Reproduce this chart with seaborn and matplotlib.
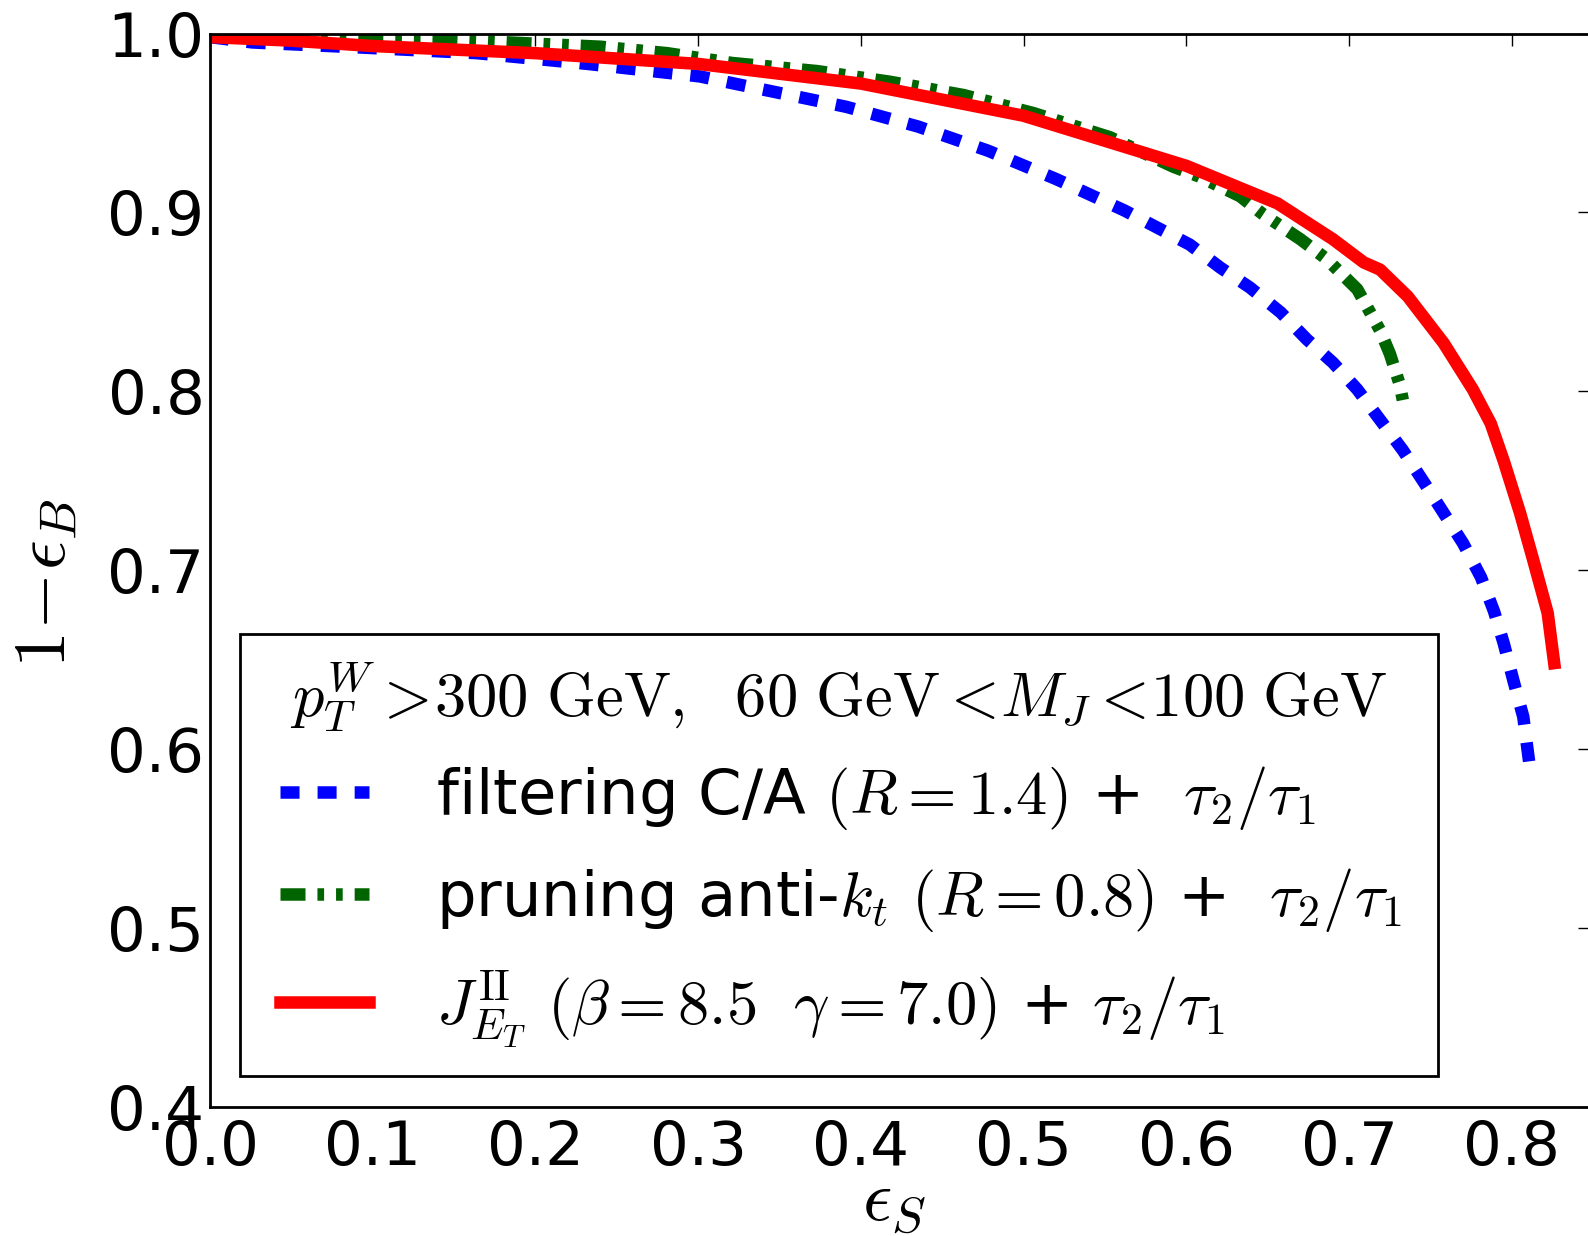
import matplotlib
matplotlib.use("Agg")
import matplotlib.pyplot as plt
from matplotlib.offsetbox import DrawingArea
import seaborn as sns

# ---- data ----
blue_x = [0.0, 0.026, 0.0965, 0.164, 0.232, 0.301, 0.346, 0.391, 0.435, 0.478,
          0.52, 0.562, 0.602, 0.621, 0.639, 0.658, 0.674, 0.690, 0.705, 0.719,
          0.733, 0.746, 0.758, 0.770, 0.781, 0.789, 0.795, 0.801, 0.807, 0.811]
blue_y = [0.998, 0.995, 0.992, 0.989, 0.983, 0.976, 0.9675, 0.959, 0.948, 0.9345,
          0.9186, 0.901, 0.882, 0.869, 0.858, 0.844, 0.829, 0.816, 0.801, 0.784,
          0.767, 0.749, 0.732, 0.715, 0.696, 0.677, 0.659, 0.638, 0.618, 0.590]

green_x = [0.0, 0.137, 0.24, 0.281, 0.321, 0.373, 0.418, 0.463, 0.506, 0.553,
           0.592, 0.608, 0.633, 0.647, 0.670, 0.686, 0.705, 0.719, 0.725, 0.731, 0.733]
green_y = [0.999, 0.997, 0.9926, 0.989, 0.9835, 0.979, 0.973, 0.9656, 0.9555, 0.942,
           0.9255, 0.920, 0.909, 0.899, 0.885, 0.874, 0.857, 0.834, 0.821, 0.804, 0.795]

red_x = [0.0, 0.05, 0.1, 0.2, 0.3, 0.4, 0.5, 0.55, 0.6, 0.656, 0.69, 0.709, 0.719,
         0.736, 0.758, 0.776, 0.787, 0.795, 0.805, 0.813, 0.822, 0.826]
red_y = [0.998, 0.996, 0.993, 0.989, 0.983, 0.972, 0.954, 0.940, 0.926, 0.905, 0.885,
         0.872, 0.868, 0.853, 0.827, 0.801, 0.782, 0.761, 0.732, 0.706, 0.676, 0.648]

labels = [
    r"filtering C/A $(R=1.4)$ +  $\tau_2/\tau_1$",
    r"pruning anti-$k_t$ $(R=0.8)$ +  $\tau_2/\tau_1$",
    r"$J_{E_T}^{\mathrm{II}}$ $(\beta=8.5\ \ \gamma=7.0)$ + $\tau_2/\tau_1$",
]
legend_title = (r"$p_T^W>\!300\ \mathrm{GeV},\ \ 60\ \mathrm{GeV}<\!M_J<\!100"
                r"\ \mathrm{GeV}$")
x_ticks = [0.0, 0.1, 0.2, 0.3, 0.4, 0.5, 0.6, 0.7, 0.8]
y_ticks = [0.4, 0.5, 0.6, 0.7, 0.8, 0.9, 1.0]

sns.set_style("white")
plt.rcParams["mathtext.fontset"] = "cm"
plt.rcParams["font.family"] = ["DejaVu Sans"]
plt.rcParams["lines.scale_dashes"] = False
plt.rcParams["text.color"] = "black"
plt.rcParams["axes.labelcolor"] = "black"
plt.rcParams["xtick.color"] = "black"
plt.rcParams["ytick.color"] = "black"

W, H = 1588, 1236
fig = plt.figure(figsize=(W / 100, H / 100), dpi=100)
ax = fig.add_axes([210 / W, 1 - 1106.7 / H, 1380 / W, (1106.7 - 33.5) / H])

lw = 9
sns.lineplot(x=blue_x, y=blue_y, ax=ax, sort=False, estimator=None, color="#0000ff",
             lw=lw, linestyle=(0, (13.7, 13.0)), dash_capstyle="butt", label=labels[0])
sns.lineplot(x=green_x, y=green_y, ax=ax, sort=False, estimator=None, color="#006400",
             lw=lw, linestyle=(0, (18, 8.6, 4.8, 8.6, 4.8, 8.6)), dash_capstyle="butt",
             label=labels[1])
sns.lineplot(x=red_x, y=red_y, ax=ax, sort=False, estimator=None, color="#ff0000",
             lw=lw, solid_capstyle="projecting", label=labels[2])

ax.set_xlim(0, 0.848)
ax.set_ylim(0.4, 1.0)
ax.set_xticks(x_ticks)
ax.set_yticks(y_ticks)
ax.set_xticklabels([f"{v:.1f}" for v in x_ticks])
ax.set_yticklabels([f"{v:.1f}" for v in y_ticks])
ax.tick_params(direction="in", length=8.6, width=1.0, colors="black",
               top=True, right=True, labelsize=44)
ax.tick_params(axis="x", pad=9)
ax.tick_params(axis="y", pad=4)
for s in ax.spines.values():
    s.set_color("black")
    s.set_linewidth(2)

ax.set_xlabel(r"$\epsilon_S$", fontsize=52, color="black")
ax.set_ylabel(r"$1\!-\!\epsilon_B$", fontsize=53, color="black")
ax.xaxis.set_label_coords(0.4957, -0.0565)
ax.yaxis.set_label_coords(-0.093, 0.488)

leg_fs = 45
leg = ax.legend(loc="lower left", bbox_to_anchor=(240 / W, 1 - 1076 / H),
                bbox_transform=fig.transFigure, fontsize=leg_fs, title=legend_title,
                title_fontsize=leg_fs, handlelength=1.42, handletextpad=1.08,
                borderpad=0.42, labelspacing=0.55, frameon=True, fancybox=False,
                framealpha=1, borderaxespad=0)
leg.get_frame().set_edgecolor("black")
leg.get_frame().set_linewidth(2)

# tighter gap between title and entries (offsetbox units are points)
leg._legend_box.sep = 0.55 * leg_fs - 3.6

# extra horizontal inset inside the legend frame (keeps vertical padding small)
hbox = leg._legend_handle_box
hbox.sep = 0
left_sp = DrawingArea(10, 0)
right_sp = DrawingArea(7, 0)
for sp in (left_sp, right_sp):
    sp.set_figure(fig)
children = hbox.get_children()
children.insert(0, left_sp)
children.append(right_sp)

fig.savefig("out.png", dpi=100)
